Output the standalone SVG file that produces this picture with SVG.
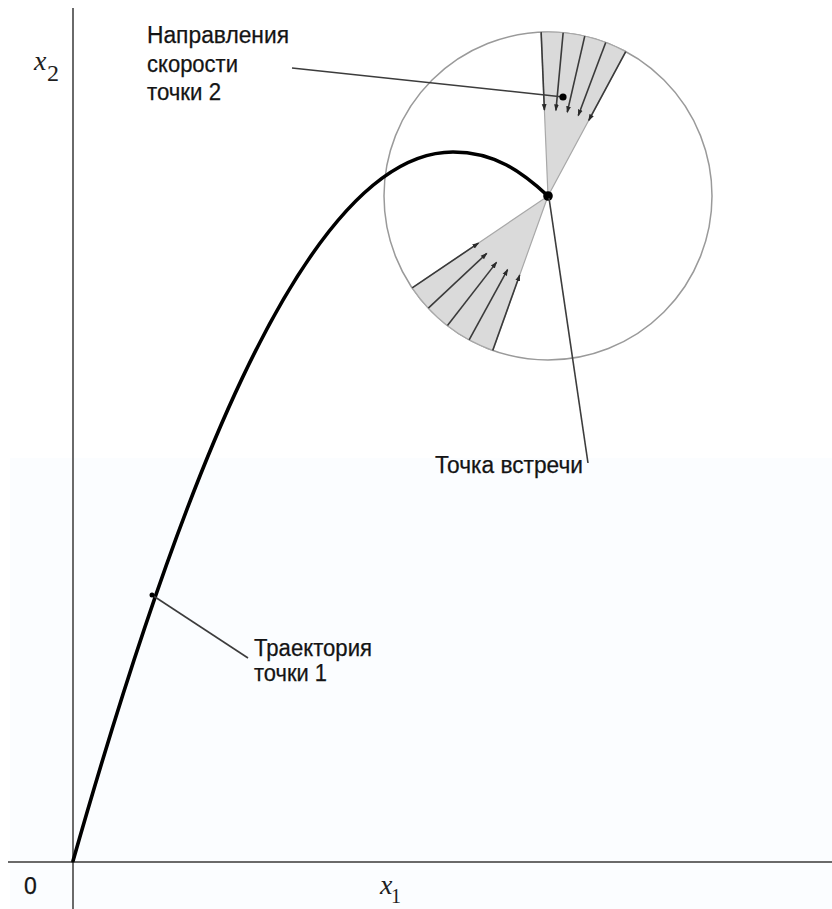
<svg xmlns="http://www.w3.org/2000/svg" width="832" height="909" viewBox="0 0 832 909">
<style>
.axis{stroke:#6a6a6a;stroke-width:2;fill:none}
.lbl{font-family:"Liberation Sans",Arial,sans-serif;font-size:23px;fill:#141414;stroke:#141414;stroke-width:0.25}
.math{font-family:"Liberation Serif","Times New Roman",serif;fill:#1e1e1e}
.sector{fill:#dadada;stroke:#a8a8a8;stroke-width:1.2}
.arr{stroke:#3a3a3a;stroke-width:1.6;fill:none;marker-end:url(#ah)}
.lead{stroke:#3c3c3c;stroke-width:1.6;fill:none}
</style>
<defs>
<marker id="ah" markerUnits="userSpaceOnUse" markerWidth="8" markerHeight="6" refX="6" refY="3" orient="auto">
<path d="M0,0.6 L7,3 L0,5.4 Z" fill="#2a2a2a"/>
</marker>
</defs>
<rect x="0" y="0" width="832" height="909" fill="#ffffff"/>
<rect x="10" y="458" width="822" height="451" fill="#fbfdff"/>

<g id="axes">
<line class="axis" x1="73" y1="8" x2="73" y2="909"/>
<line class="axis" x1="8" y1="862" x2="832" y2="862"/>
<text class="lbl" x="24" y="894" font-size="18">0</text>
<text class="math" x="34" y="70" font-size="28" font-style="italic">x</text>
<text class="math" x="47" y="81" font-size="24">2</text>
<text class="math" x="380" y="894" font-size="28" font-style="italic">x</text>
<text class="math" x="391" y="903" font-size="20">1</text>
</g>

<g id="circle">
<circle cx="548" cy="196" r="164" fill="none" stroke="#9a9a9a" stroke-width="1.5"/>
</g>

<g id="upper-sector">
<path class="sector" d="M548,196 L541.13,32.14 A164,164 0 0 1 625.75,51.60 Z"/>
<line class="arr" x1="541.13" y1="32.14" x2="544.40" y2="110.08"/>
<line class="arr" x1="563.15" y1="32.70" x2="555.94" y2="110.37"/>
<line class="arr" x1="584.75" y1="36.17" x2="567.27" y2="112.19"/>
<line class="arr" x1="605.70" y1="42.49" x2="578.26" y2="115.50"/>
<line class="arr" x1="625.75" y1="51.60" x2="588.77" y2="120.28"/>
</g>

<g id="lower-sector">
<path class="sector" d="M548,196 L492.72,350.40 A164,164 0 0 1 412.18,287.95 Z"/>
<line class="arr" x1="412.18" y1="287.95" x2="478.43" y2="243.10"/>
<line class="arr" x1="428.34" y1="308.14" x2="486.71" y2="253.44"/>
<line class="arr" x1="447.48" y1="325.59" x2="496.52" y2="262.37"/>
<line class="arr" x1="469.12" y1="339.78" x2="507.60" y2="269.64"/>
<line class="arr" x1="492.72" y1="350.40" x2="519.68" y2="275.08"/>
</g>

<g id="trajectory">
<path d="M73,861 C170,520 300,152 453,152 C495,152 522,172 548,196" fill="none" stroke="#000" stroke-width="3.6" stroke-linecap="round"/>
</g>

<g id="meeting-point">
<circle cx="548" cy="196" r="4.8" fill="#000"/>
</g>

<g id="connectors">
<polyline class="lead" points="292,68 545,95 563,97"/>
<circle cx="563" cy="97" r="3.6" fill="#000"/>
<line class="lead" x1="549" y1="198" x2="588" y2="463"/>
<line class="lead" x1="152" y1="595" x2="248" y2="658"/>
<circle cx="152" cy="595" r="2.5" fill="#000"/>
</g>

<g id="label-directions">
<text class="lbl" x="147" y="43" textLength="142" lengthAdjust="spacingAndGlyphs">Направления</text>
<text class="lbl" x="147" y="72" textLength="91" lengthAdjust="spacingAndGlyphs">скорости</text>
<text class="lbl" x="147" y="100" textLength="74" lengthAdjust="spacingAndGlyphs">точки 2</text>
</g>

<g id="label-meeting">
<text class="lbl" x="435" y="473" textLength="148" lengthAdjust="spacingAndGlyphs">Точка встречи</text>
</g>

<g id="label-trajectory">
<text class="lbl" x="254" y="656" textLength="118" lengthAdjust="spacingAndGlyphs">Траектория</text>
<text class="lbl" x="254" y="681" textLength="73" lengthAdjust="spacingAndGlyphs">точки 1</text>
</g>
</svg>
